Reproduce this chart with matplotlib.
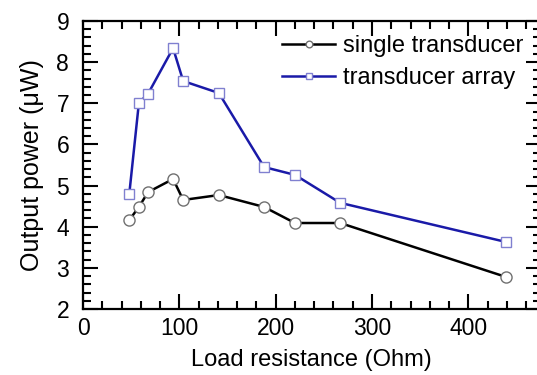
import matplotlib
matplotlib.use("Agg")
import matplotlib.pyplot as plt
from matplotlib.ticker import MultipleLocator

plt.rcParams['font.family'] = ['Liberation Sans', 'DejaVu Sans']

# load resistance (Ohm)
resistance = [48, 58, 67.5, 93.5, 104, 141, 188, 220, 267, 439]
# output power (uW)
single_power = [4.16, 4.48, 4.84, 5.16, 4.65, 4.77, 4.48, 4.09, 4.09, 2.78]
array_power = [4.79, 7.01, 7.23, 8.34, 7.54, 7.25, 5.45, 5.26, 4.58, 3.63]

fig = plt.figure(figsize=(5.37, 3.75), dpi=100)
ax = fig.add_axes([0.1546, 0.176, 0.852, 0.768])

ax.plot(resistance, single_power, color='black', lw=1.8, marker='o', ms=8,
        mfc='white', mec='#707070', mew=1.0, label='single transducer')
ax.plot(resistance, array_power, color='#1a1aa8', lw=1.8, marker='s', ms=7,
        mfc='white', mec='#8080d0', mew=1.0, label='transducer array')

ax.set_xlim(0, 475)
ax.set_ylim(2, 9)
ax.xaxis.set_major_locator(MultipleLocator(100))
ax.xaxis.set_minor_locator(MultipleLocator(20))
ax.yaxis.set_major_locator(MultipleLocator(1))
ax.yaxis.set_minor_locator(MultipleLocator(0.2))
ax.tick_params(which='both', direction='in', top=True, right=True,
               width=1.5, labelsize=16.5)
ax.tick_params(which='major', length=10.5)
ax.tick_params(which='minor', length=5.5)
ax.tick_params(axis='x', which='major', pad=6)
ax.tick_params(axis='y', which='major', pad=10)
for s in ax.spines.values():
    s.set_linewidth(1.6)

ax.set_xlabel('Load resistance (Ohm)', fontsize=17, labelpad=6)
ax.set_ylabel('Output power (\u03bcW)', fontsize=18, labelpad=9)

ax.legend(loc='upper left', frameon=False, fontsize=17, markerscale=0.6,
          handlelength=2.25, handletextpad=0.35, labelspacing=0.4,
          borderpad=0, borderaxespad=0, bbox_to_anchor=(0.435, 0.95))

fig.savefig('out.png', dpi=100)
